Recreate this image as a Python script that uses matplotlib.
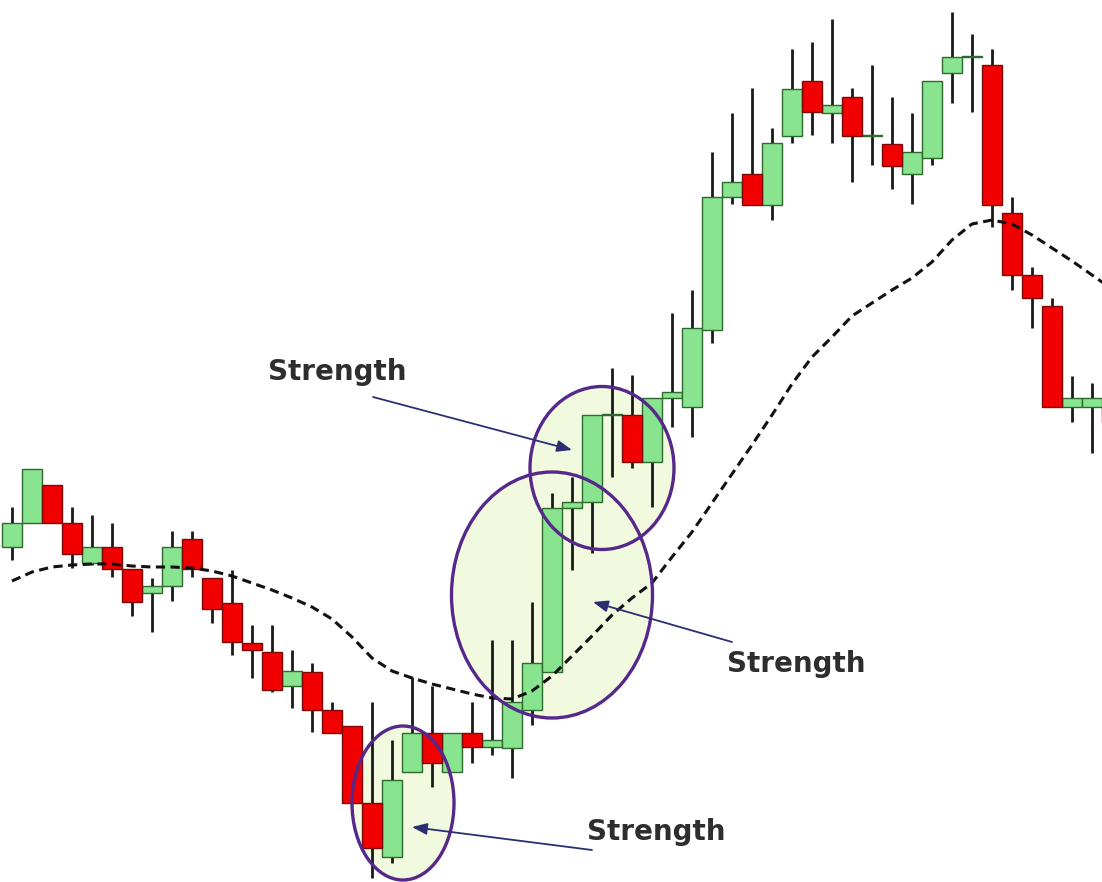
import numpy as np
import matplotlib
matplotlib.use("Agg")
import matplotlib.pyplot as plt
from matplotlib.patches import Ellipse

# candle prices (arbitrary units)
opens = [353, 377, 415, 377, 337, 353, 331, 307, 314, 361, 322, 297, 257, 248, 214, 228,
         190, 174, 97, 43, 128, 167, 128, 167, 153, 152, 190, 228, 392, 398, 485, 485,
         438, 502, 493, 570, 703, 726, 695, 764, 819, 787, 803, 764, 756, 726, 742, 827,
         843, 835, 687, 625, 594, 493, 493, 493]
highs = [393, 431, 415, 393, 385, 377, 331, 322, 369, 369, 322, 330, 275, 275, 250, 237,
         198, 174, 198, 160, 223, 214, 167, 198, 260, 260, 298, 407, 423, 485, 532, 525,
         502, 587, 610, 748, 787, 812, 772, 851, 858, 881, 812, 835, 803, 787, 819, 888,
         866, 851, 703, 633, 602, 524, 517, 517]
lows = [340, 377, 377, 332, 335, 323, 284, 268, 299, 323, 277, 245, 222, 208, 192, 168,
        167, 97, 22, 37, 128, 113, 128, 137, 145, 122, 175, 228, 330, 347, 423, 432,
        393, 473, 463, 557, 696, 695, 680, 757, 765, 757, 718, 735, 711, 696, 735, 797,
        788, 673, 610, 572, 493, 478, 447, 470]
closes = [377, 431, 377, 346, 353, 331, 298, 314, 353, 331, 291, 258, 250, 210, 229, 190,
          167, 97, 52, 120, 167, 137, 167, 153, 160, 198, 237, 392, 398, 485, 486, 438,
          502, 508, 572, 703, 718, 695, 757, 811, 788, 795, 764, 765, 734, 748, 819, 843,
          844, 695, 625, 602, 493, 502, 502, 478]
moving_avg = [319, 328, 333, 335, 336, 336, 334, 333, 333, 332, 329, 324, 317, 310, 302, 293,
              281, 263, 242, 229, 222, 216, 211, 206, 202, 201, 209, 224, 244, 264, 285, 302,
              317, 343, 368, 397, 426, 455, 485, 516, 543, 563, 584, 597, 610, 622, 638, 660,
              676, 680, 676, 665, 652, 639, 625, 611]

label = "Strength"

o = np.array(opens)
h = np.array(highs)
l = np.array(lows)
c = np.array(closes)
idx = np.arange(len(o))
up = c >= o

fig = plt.figure(figsize=(11.02, 8.82), dpi=100)
ax = fig.add_axes([0, 0, 1, 1])
ax.set_xlim(-0.6, 54.5)
ax.set_ylim(18, 900)
ax.axis("off")

# highlight ellipses (fill behind, outline on top)
ells = [((19.55, 97), 5.1, 154), ((27.0, 305), 10.05, 246), ((29.5, 432), 7.2, 163)]
for (cx, cy), w, hh in ells:
    ax.add_patch(Ellipse((cx, cy), w, hh, facecolor="#f1fadf", edgecolor="none", zorder=0.5))
    ax.add_patch(Ellipse((cx, cy), w, hh, facecolor="none", edgecolor="#56288a", lw=2.4, zorder=6))

# wicks
ax.vlines(idx, l, h, color="#1a1a1a", lw=2.0, zorder=2)

# bodies
body_lo = np.minimum(o, c)
body_h = np.maximum(np.abs(c - o), 1)
ax.bar(idx[up], body_h[up], bottom=body_lo[up], width=1.0, color="#88e48f",
       edgecolor="#2e6a2e", lw=1.0, zorder=3)
ax.bar(idx[~up], body_h[~up], bottom=body_lo[~up], width=1.0, color="#f20000",
       edgecolor="#7a0a0a", lw=1.0, zorder=3)

# moving average
ax.plot(idx, moving_avg, color="#111111", lw=2.2, ls=(0, (3, 1.8)), zorder=4)

# annotations
notes = [((12.8, 528), (18.05, 503), (28.0, 450)),
         ((35.75, 236), (36.0, 258), (29.05, 298)),
         ((28.75, 68), (29.0, 50), (20.0, 73))]
for (tx, ty), start, tip in notes:
    ax.text(tx, ty, label, fontsize=20, fontweight="bold", color="#2e2e2e",
            ha="left", va="center", family="DejaVu Sans", zorder=7)
    ax.annotate("", xy=tip, xytext=start,
                arrowprops=dict(arrowstyle="-|>,head_length=0.9,head_width=0.35",
                                color="#2b2f72", lw=1.3, shrinkA=0, shrinkB=0),
                zorder=7)

fig.savefig("out.png", dpi=100)
